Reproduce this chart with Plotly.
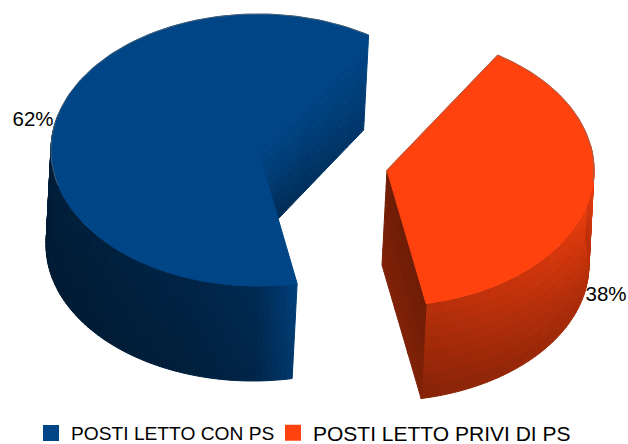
import numpy as np
import plotly.graph_objects as go

categories = ["POSTI LETTO CON PS", "POSTI LETTO PRIVI DI PS"]
values = [62, 38]
colors = ["#004586", "#ff420e"]

# layout of the drawing, in page pixels
W, H = 628, 444
RX, RY = 207, 136
DROP = (-5, 95)
CENTERS = {"blue": (258, 150), "orange": (387, 170)}
START = 57.7

total = sum(values)
sweep_orange = values[1] / total * 360
sweep_blue = values[0] / total * 360
o_a0, o_a1 = START - sweep_orange, START
b_a0, b_a1 = START, START + sweep_blue


def rgb(c):
    return np.array([int(c[i:i + 2], 16) for i in (1, 3, 5)], float)


def css(v):
    v = np.clip(v, 0, 255)
    return "rgb(%d,%d,%d)" % tuple(v.round())


def rim(c, deg):
    t = np.radians(deg)
    return c[0] + RX * np.cos(t), c[1] - RY * np.sin(t)


fig = go.Figure()


def poly(xs, ys, col, lw=1):
    fig.add_trace(go.Scatter(x=list(xs) + [xs[0]], y=list(ys) + [ys[0]], mode="lines",
                             fill="toself", fillcolor=col,
                             line=dict(color=col, width=lw),
                             hoverinfo="skip", showlegend=False))


def edge(xs, ys, col="rgba(110,110,110,0.6)"):
    fig.add_trace(go.Scatter(x=list(xs), y=list(ys), mode="lines",
                             line=dict(color=col, width=1),
                             hoverinfo="skip", showlegend=False))


def outer_wall(c, base, a0, a1, ang_pts, fac_pts, vert, n, nv=8):
    angs = np.linspace(a0, a1, n + 1)
    sv = np.linspace(0, 1, nv + 1)
    for i in range(n):
        a, b = angs[i], angs[i + 1]
        xa, ya = rim(c, a)
        xb, yb = rim(c, b)
        for j in range(nv):
            s0, s1 = sv[j], sv[j + 1]
            xs = [xa + DROP[0] * s0, xb + DROP[0] * s0, xb + DROP[0] * s1, xa + DROP[0] * s1]
            ys = [ya + DROP[1] * s0, yb + DROP[1] * s0, yb + DROP[1] * s1, ya + DROP[1] * s1]
            f = np.interp((a + b) / 2, ang_pts, fac_pts) * (1 - vert * (s0 + s1) / 2)
            poly(xs, ys, css(base * f))


def inner_wall(c, base, deg, fn, nr=20, nv=10):
    rx, ry = rim(c, deg)
    for i in range(nr):
        for j in range(nv):
            r0, r1 = i / nr, (i + 1) / nr
            s0, s1 = j / nv, (j + 1) / nv
            pts = [(r0, s0), (r1, s0), (r1, s1), (r0, s1)]
            xs = [c[0] + (rx - c[0]) * r + DROP[0] * s for r, s in pts]
            ys = [c[1] + (ry - c[1]) * r + DROP[1] * s for r, s in pts]
            poly(xs, ys, css(base * fn((r0 + r1) / 2, (s0 + s1) / 2)))


def top_face(c, col, a0, a1):
    angs = np.linspace(a0, a1, 160)
    x, y = rim(c, angs)
    poly([c[0]] + list(x), [c[1]] + list(y), col)


blue, orange = rgb(colors[0]), rgb(colors[1])
cb, co = CENTERS["blue"], CENTERS["orange"]

# blue slice
inner_wall(cb, blue, b_a0, lambda r, s: 1 - (0.42 - 0.2 * r) * s ** 1.3)
outer_wall(cb, blue, 165, b_a1,
           [165, 185, 215, 250, 270, b_a1], [0.5, 0.44, 0.45, 0.52, 0.62, 0.92], 0.15, 80)
top_face(cb, colors[0], b_a0, b_a1)
bx, by = rim(cb, np.linspace(b_a0, 195, 90))
edge(bx, by)

# orange slice
outer_wall(co, orange, o_a0, 10,
           [o_a0, -50, -25, -5, 10], [0.72, 0.8, 0.88, 0.97, 1.0], 0.28, 50)
inner_wall(co, orange, o_a0, lambda r, s: 0.43 + 0.07 * s, nr=3, nv=6)
top_face(co, colors[1], o_a0, o_a1)
ox, oy = rim(co, np.linspace(o_a1, -5, 70))
edge([co[0]] + list(ox), [co[1]] + list(oy))

# percentage labels
fig.add_trace(go.Scatter(
    x=[33, 606], y=[121, 296], mode="text",
    text=[f"{v}%" for v in values],
    textfont=dict(family="Liberation Sans", size=20.5, color="#000000"),
    hoverinfo="skip", showlegend=False))

# legend entries
for i, (name, col) in enumerate(zip(categories, colors)):
    fig.add_trace(go.Scatter(x=[None], y=[None], mode="markers", name=name,
                             marker=dict(symbol="square", size=16, color=col),
                             legend="legend" if i == 0 else "legend2"))

legend_common = dict(orientation="h", bgcolor="rgba(0,0,0,0)", yanchor="middle",
                     y=1 - 433 / H, xanchor="left", itemsizing="trace",
                     itemwidth=30, tracegroupgap=0, borderwidth=0)
fig.update_layout(
    width=W, height=H, margin=dict(l=0, r=0, t=0, b=0, autoexpand=False),
    paper_bgcolor="white", plot_bgcolor="white",
    font=dict(family="Liberation Sans"),
    xaxis=dict(range=[0, W], visible=False, fixedrange=True),
    yaxis=dict(range=[H, 0], visible=False, fixedrange=True),
    legend=dict(x=31 / W, font=dict(size=19.2, color="#000000"), **legend_common),
    legend2=dict(x=273 / W, font=dict(size=21, color="#000000"), **legend_common),
)
fig.write_html("out.html", config={"displayModeBar": False},
               post_script="document.body.style.margin='0';document.body.style.overflow='hidden';")
